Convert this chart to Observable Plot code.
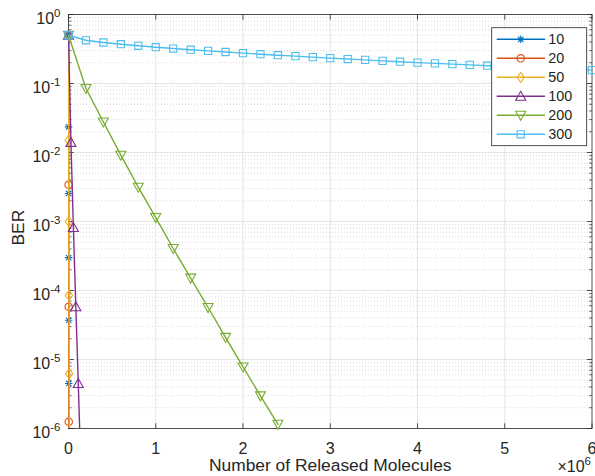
<!DOCTYPE html>
<html><head><meta charset="utf-8">
<script src="https://cdn.jsdelivr.net/npm/d3@7"></script>
<script src="https://cdn.jsdelivr.net/npm/@observablehq/plot@0.6"></script>
<style>
body{margin:0;background:#fff;}
#chart{width:595px;height:476px;font-family:"Liberation Sans",Arial,sans-serif;}
</style></head><body><div id="chart"></div>
<script>
// ---- data ----
const seriesNames = ["10", "20", "50", "100", "200", "300"];
const seriesColors = ["#0072BD", "#D95319", "#EDB120", "#7E2F8E", "#77AC30", "#4DBEEE"];
const x10 = [0, 500, 1000, 1500, 2000, 2500, 3000];
const ber10 = [0.5, 0.0235, 2.55e-3, 3.0e-4, 3.7e-5, 4.5e-6, 5.5e-7];
const x20 = [0, 1000, 2000, 3000, 4000];
const ber20 = [0.5, 3.4e-3, 5.8e-5, 1.25e-6, 2.5e-8];
const x50 = [0, 2000, 4000, 6000, 8000, 10000];
const ber50 = [0.5, 0.015, 1.0e-3, 8.5e-5, 6.2e-6, 4.5e-7];
const x100 = [0, 28000, 56000, 84000, 112000, 140000];
const ber100 = [0.5, 0.014, 8.2e-4, 5.8e-5, 4.5e-6, 3.2e-7];
const x200 = [0, 2e5, 4e5, 6e5, 8e5, 1e6, 1.2e6, 1.4e6, 1.6e6, 1.8e6, 2e6, 2.2e6, 2.4e6];
const ber200 = [0.5, 0.0847, 0.0277, 0.00914, 0.00314, 0.00114, 4.06e-4, 1.51e-4, 5.67e-5, 2.09e-5, 7.8e-6, 2.97e-6, 1.15e-6];
const x300 = [0, 2e5, 4e5, 6e5, 8e5, 1e6, 1.2e6, 1.4e6, 1.6e6, 1.8e6, 2e6, 2.2e6, 2.4e6, 2.6e6, 2.8e6, 3e6, 3.2e6, 3.4e6, 3.6e6, 3.8e6, 4e6, 4.2e6, 4.4e6, 4.6e6, 4.8e6, 5e6, 5.2e6, 5.4e6, 5.6e6, 5.8e6, 6e6];
const ber300 = [0.5, 0.423, 0.393, 0.371, 0.352, 0.336, 0.321, 0.309, 0.297, 0.286, 0.276, 0.266, 0.257, 0.249, 0.241, 0.233, 0.226, 0.220, 0.213, 0.207, 0.201, 0.196, 0.191, 0.186, 0.181, 0.176, 0.172, 0.168, 0.164, 0.160, 0.156];
const xTicks = [0, 1e6, 2e6, 3e6, 4e6, 5e6, 6e6];
const yTicks = [1e-6, 1e-5, 1e-4, 1e-3, 1e-2, 1e-1, 1];
const xLabel = "Number of Released Molecules";
const yLabel = "BER";
const xExponent = "6";

const seriesX = [x10, x20, x50, x100, x200, x300];
const seriesY = [ber10, ber20, ber50, ber100, ber200, ber300];

// ---- marker shapes (MATLAB style) ----
const symbols = [
  {draw(c){const r=3.8,d=r*0.7071;c.moveTo(-r,0);c.lineTo(r,0);c.moveTo(0,-r);c.lineTo(0,r);c.moveTo(-d,-d);c.lineTo(d,d);c.moveTo(-d,d);c.lineTo(d,-d);}},
  {draw(c){c.moveTo(3.7,0);c.arc(0,0,3.7,0,2*Math.PI);c.closePath();}},
  {draw(c){c.moveTo(0,-5);c.lineTo(3.7,0);c.lineTo(0,5);c.lineTo(-3.7,0);c.closePath();}},
  {draw(c){c.moveTo(0,-5);c.lineTo(5,4);c.lineTo(-5,4);c.closePath();}},
  {draw(c){c.moveTo(0,5);c.lineTo(5,-4);c.lineTo(-5,-4);c.closePath();}},
  {draw(c){c.rect(-3.6,-3.6,7.2,7.2);}}
];
const tickSym = (dx, dy) => ({draw(c){c.moveTo(0,0);c.lineTo(dx,dy);}});

const rows = [];
seriesNames.forEach((s, i) => seriesX[i].forEach((x, j) => rows.push({series: s, i, x, ber: seriesY[i][j]})));

const minorY = [];
for (let k = -6; k < 0; k++) for (let m = 2; m <= 9; m++) minorY.push(m * Math.pow(10, k));
const majorY = yTicks;

const axisColor = "#262626";
const FONT = '"Liberation Sans", Arial, sans-serif';
const marks = [
  Plot.ruleY(minorY, {stroke: "#c8c8c8", strokeWidth: 0.7, strokeDasharray: "1,2"}),
  Plot.ruleY(majorY.slice(1, -1), {stroke: "#dedede", strokeWidth: 0.8}),
  Plot.ruleX(xTicks.slice(1, -1), {stroke: "#dedede", strokeWidth: 0.8}),
  // tick marks (inward)
  Plot.dot(majorY, {x: () => xTicks[0], y: d => d, symbol: tickSym(5.2, 0), stroke: axisColor, strokeWidth: 0.8, fill: "none"}),
  Plot.dot(majorY, {x: () => xTicks[xTicks.length-1], y: d => d, symbol: tickSym(-5.2, 0), stroke: axisColor, strokeWidth: 0.8, fill: "none"}),
  Plot.dot(minorY, {x: () => xTicks[0], y: d => d, symbol: tickSym(2.8, 0), stroke: axisColor, strokeWidth: 0.7, fill: "none"}),
  Plot.dot(minorY, {x: () => xTicks[xTicks.length-1], y: d => d, symbol: tickSym(-2.8, 0), stroke: axisColor, strokeWidth: 0.7, fill: "none"}),
  Plot.dot(xTicks, {x: d => d, y: () => yTicks[0], symbol: tickSym(0, -5.2), stroke: axisColor, strokeWidth: 0.8, fill: "none"}),
  Plot.dot(xTicks, {x: d => d, y: () => yTicks[yTicks.length-1], symbol: tickSym(0, 5.2), stroke: axisColor, strokeWidth: 0.8, fill: "none"}),
  Plot.frame({stroke: axisColor, strokeWidth: 0.8}),
  Plot.axisX({ticks: xTicks, tickSize: 0, tickPadding: 14.5, tickFormat: d => String(d / 1e6), fontSize: 16, color: axisColor, label: null}),
  Plot.axisY({ticks: yTicks, tickSize: 0, tickPadding: 8, dy: 4, tickFormat: d => String(Math.round(Math.log10(d))), fontSize: 16, color: axisColor, label: null}),
  Plot.text([xLabel], {frameAnchor: "bottom", dy: 42.5, text: d => d, fontSize: 17.4, fill: axisColor}),
  Plot.text([yLabel], {frameAnchor: "left", dx: -50, dy: 24, rotate: -90, text: d => d, fontSize: 17.4, fill: axisColor})
];
seriesNames.forEach((s, i) => {
  const data = rows.filter(r => r.i === i);
  marks.push(Plot.line(data, {x: "x", y: "ber", stroke: seriesColors[i], strokeWidth: 1.4, clip: true}));
  marks.push(Plot.dot(data.filter(r => r.ber >= yTicks[0]), {x: "x", y: "ber", symbol: symbols[i], stroke: seriesColors[i], strokeWidth: 1.1, fill: "none"}));
});

const svg = Plot.plot({
  width: 595, height: 476,
  marginLeft: 68, marginRight: 3.5, marginTop: 14, marginBottom: 48,
  style: {fontFamily: FONT, background: "#fff", overflow: "visible"},
  x: {domain: [xTicks[0], xTicks[xTicks.length-1]], axis: null},
  y: {type: "log", domain: [yTicks[0], yTicks[yTicks.length-1]], axis: null},
  marks
});
document.getElementById("chart").appendChild(svg);

const S = d3.select(svg);
// superscript exponents on y tick labels
S.selectAll('g[aria-label="y-axis tick label"] text').each(function(){
  const e = this.textContent;
  const t = d3.select(this);
  t.text(null);
  t.append("tspan").text("10");
  t.append("tspan").attr("dy", "-0.6em").attr("font-size", "0.72em").text(e);
});
// x exponent
const xt = S.append("text").attr("x", 591).attr("y", 472).attr("text-anchor", "end")
  .attr("font-size", 16).attr("fill", axisColor).attr("font-family", FONT);
xt.append("tspan").text("\u00d710");
xt.append("tspan").attr("dy", "-0.6em").attr("font-size", "0.72em").text(xExponent);

// legend
const lg = S.append("g").attr("transform", "translate(491.7,27.7)").attr("text-anchor", "start");
lg.append("rect").attr("width", 95).attr("height", 118).attr("fill", "#fff").attr("stroke", axisColor).attr("stroke-width", 0.8);
seriesNames.forEach((s, i) => {
  const y = 11.6 + 19 * i;
  const g = lg.append("g");
  g.append("line").attr("x1", 5).attr("x2", 53.3).attr("y1", y).attr("y2", y).attr("stroke", seriesColors[i]).attr("stroke-width", 1.4);
  const p = d3.path(); symbols[i].draw(p);
  g.append("path").attr("d", p.toString()).attr("transform", `translate(29,${y})`).attr("fill", "none").attr("stroke", seriesColors[i]).attr("stroke-width", 1.1);
  g.append("text").attr("x", 56.6).attr("y", y).attr("dy", "0.35em").attr("text-anchor", "start").attr("font-size", 14.4).attr("fill", axisColor)
    .attr("font-family", FONT).text(s);
});
</script></body></html>
